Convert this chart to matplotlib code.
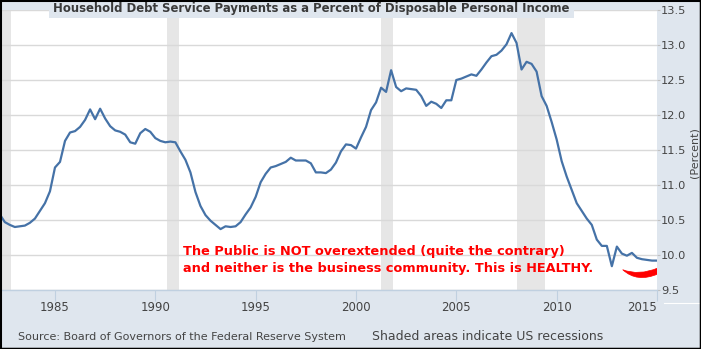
"""
Household debt service payments as a percent of disposable personal income,
quarterly, with US recessions shaded.
"""

import numpy as np
import matplotlib.pyplot as plt
from matplotlib.patches import Rectangle, PathPatch
from matplotlib.path import Path
from matplotlib.lines import Line2D

# ── Data ───────────────────────────────────────────────────────
first_quarter = 1982.25   # 1982 Q2, decimal year
tdsp = [
    10.58, 10.47, 10.43, 10.40, 10.41, 10.42, 10.46, 10.52, 10.63, 10.74,
    10.91, 11.25, 11.33, 11.63, 11.75, 11.77, 11.83, 11.93, 12.08, 11.94,
    12.09, 11.95, 11.84, 11.78, 11.76, 11.72, 11.61, 11.59, 11.74, 11.80,
    11.76, 11.67, 11.63, 11.61, 11.62, 11.61, 11.48, 11.36, 11.18, 10.90,
    10.70, 10.57, 10.49, 10.43, 10.37, 10.41, 10.40, 10.41, 10.47, 10.58,
    10.68, 10.83, 11.04, 11.16, 11.25, 11.27, 11.30, 11.33, 11.39, 11.35,
    11.35, 11.35, 11.31, 11.18, 11.18, 11.17, 11.22, 11.32, 11.48, 11.58,
    11.57, 11.52, 11.68, 11.83, 12.07, 12.18, 12.39, 12.33, 12.64, 12.40,
    12.34, 12.38, 12.37, 12.36, 12.27, 12.13, 12.19, 12.16, 12.10, 12.21,
    12.21, 12.50, 12.52, 12.55, 12.58, 12.56, 12.65, 12.75, 12.84, 12.86,
    12.92, 13.01, 13.17, 13.03, 12.65, 12.76, 12.73, 12.62, 12.27, 12.13,
    11.90, 11.65, 11.34, 11.12, 10.93, 10.74, 10.63, 10.52, 10.43, 10.22,
    10.13, 10.13, 9.84, 10.12, 10.02, 9.99, 10.03, 9.96, 9.94, 9.93,
    9.92, 9.92,
]
dates = first_quarter + 0.25 * np.arange(len(tdsp))

# NBER recessions (start, end) as decimal years
rec_start = [1981.58, 1990.58, 2001.25, 2008.00]
rec_end = [1982.83, 1991.17, 2001.83, 2009.42]

x_ticks = [1985, 1990, 1995, 2000, 2005, 2010, 2015]
y_ticks = [9.5, 10.0, 10.5, 11.0, 11.5, 12.0, 12.5, 13.0, 13.5]

title = "Household Debt Service Payments as a Percent of Disposable Personal Income"
note_1 = "The Public is NOT overextended (quite the contrary)"
note_2 = "and neither is the business community. This is HEALTHY."
source = "Source: Board of Governors of the Federal Reserve System"
shade_note = "Shaded areas indicate US recessions"

# ── Style ──────────────────────────────────────────────────────
bg = "#dfe6ee"
line_color = "#4572a7"
grid_color = "#d9d9d9"
axis_color = "#c0d0e0"
text_color = "#444444"

W, H = 701, 349
fig = plt.figure(figsize=(W / 100, H / 100), dpi=100, facecolor=bg)
ax = fig.add_axes([2 / W, (H - 290) / H, 655 / W, 280 / H])
ax.set_facecolor("white")

for s, e in zip(rec_start, rec_end):
    ax.axvspan(s, e, color="#e6e6e6", lw=0, zorder=1)

ax.plot(dates, tdsp, color=line_color, lw=1.6, zorder=3)

ax.set_xlim(1982.36, 2015.0)
ax.set_ylim(9.5, 13.5)

ax.set_yticks(y_ticks)
ax.set_yticklabels([f"{v:.1f}" for v in y_ticks])
ax.yaxis.tick_right()
ax.yaxis.grid(True, color=grid_color, lw=1, zorder=0)
ax.tick_params(axis="y", length=2, color="#c0c0c0", pad=1.0,
               labelsize=8.2, labelcolor=text_color)
ax.yaxis.set_label_position("right")
ax.set_ylabel("(Percent)", fontsize=8, color=text_color, rotation=90)
ax.yaxis.set_label_coords(1.050, 0.49)

ax.set_xticks(x_ticks)
ax.set_xticklabels([str(y) for y in x_ticks])
ax.tick_params(axis="x", length=8, color=axis_color, pad=0,
               labelsize=8.5, labelcolor=text_color)
plt.setp(ax.get_xticklabels()[-1], ha="right")

for side in ("top", "left", "right"):
    ax.spines[side].set_visible(False)
ax.spines["bottom"].set_color(axis_color)
ax.spines["bottom"].set_linewidth(1)

# Commentary
ax.text(1991.37, 10.0, note_1, color="red", fontsize=9.25, fontweight="bold",
        ha="left", va="baseline", zorder=4)
ax.text(1991.37, 9.757, note_2, color="red", fontsize=9.25, fontweight="bold",
        ha="left", va="baseline", zorder=4)

# Red smile under the latest readings
smile = Path(
    [(2013.29, 9.79), (2014.10, 9.70), (2015.05, 9.815),
     (2015.05, 9.73), (2014.00, 9.60), (2013.29, 9.79), (2013.29, 9.79)],
    [Path.MOVETO, Path.CURVE3, Path.CURVE3,
     Path.LINETO, Path.CURVE3, Path.CURVE3, Path.CLOSEPOLY],
)
ax.add_patch(PathPatch(smile, facecolor="red", edgecolor="red", lw=0.5,
                       zorder=4))

# Title box over the top of the plot
fig.add_artist(Rectangle((49 / W, (H - 17.5) / H), 525 / W, 17.5 / H,
                         transform=fig.transFigure, facecolor=bg,
                         edgecolor="none", zorder=5))
fig.text(53 / W, (H - 8.5) / H, title, fontsize=8.4, fontweight="bold",
         color="#3a3a3a", ha="left", va="center", zorder=6)

fig.text(18 / W, (H - 340) / H, source, fontsize=8, color=text_color,
         ha="left", va="baseline")
fig.text(372 / W, (H - 340) / H, shade_note, fontsize=9, color=text_color,
         ha="left", va="baseline")

fig.add_artist(Line2D([664 / W, 699 / W], [(H - 303) / H] * 2,
                      transform=fig.transFigure, color="white", lw=0.8))

# Frame
fig.add_artist(Rectangle((0, 0), 1, 1, transform=fig.transFigure,
                         fill=False, edgecolor="black", lw=2.2, zorder=10))
fig.add_artist(Line2D([1, 1], [0, 1], transform=fig.transFigure,
                      color="black", lw=2.5, zorder=10))
fig.add_artist(Line2D([0, 1], [0, 0], transform=fig.transFigure,
                      color="black", lw=2.5, zorder=10))

fig.savefig("out.png", dpi=100, facecolor=bg)
